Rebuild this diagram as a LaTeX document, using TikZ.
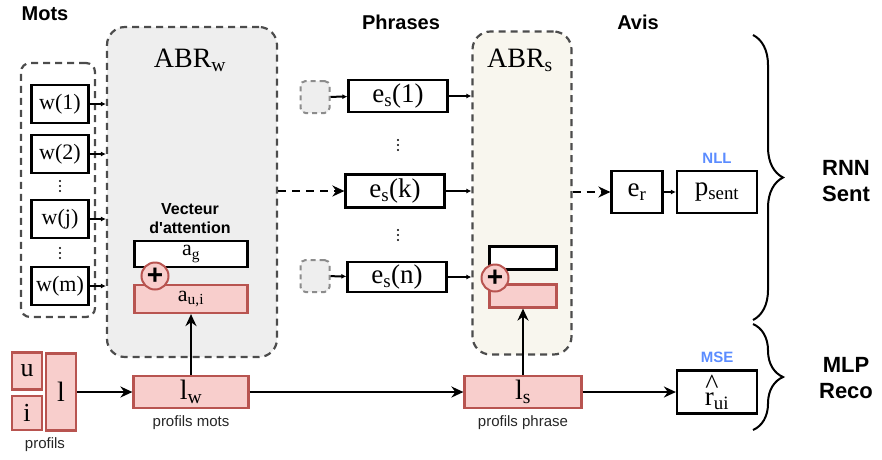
\documentclass[tikz,border=0pt]{standalone}
\usepackage{fontspec}
\setmainfont{Liberation Serif}
\setsansfont{Liberation Sans}
\usetikzlibrary{arrows.meta, positioning, decorations.pathreplacing}

\definecolor{pinkfill}{HTML}{F8CECC}
\definecolor{pinkline}{HTML}{B85450}
\definecolor{abrgray}{HTML}{EEEEEE}
\definecolor{abrbeige}{HTML}{F8F6EE}
\definecolor{losscol}{HTML}{5B8CFF}

\begin{document}
\begin{tikzpicture}[x=1pt, y=-1pt,
    vec/.style={draw, line width=2.2pt, inner sep=0pt, font=\fontsize{22}{22}\selectfont},
    sent/.style={vec, font=\fontsize{27}{27}\selectfont},
    prof/.style={vec, draw=pinkline, fill=pinkfill},
    abr/.style={draw=black!70, line width=2.2pt, dash pattern=on 7pt off 5pt, rounded corners=18pt, inner sep=0pt},
    ghost/.style={draw=black!45, fill=abrgray, line width=2pt, dash pattern=on 5pt off 4pt, rounded corners=5pt, minimum width=29pt, minimum height=32pt},
    plus/.style={circle, draw=pinkline, fill=pinkfill, line width=2pt, minimum size=27pt, inner sep=0pt, font=\sffamily\bfseries\fontsize{28}{28}\selectfont},
    title/.style={font=\sffamily\bfseries\fontsize{20}{20}\selectfont},
    model/.style={font=\sffamily\bfseries\fontsize{22}{26}\selectfont, align=center},
    loss/.style={text=losscol, font=\sffamily\bfseries\fontsize{15}{15}\selectfont},
    note/.style={text=black!85, font=\sffamily\fontsize{15}{15}\selectfont},
    small/.style={-{Latex[length=5pt, width=5pt]}, line width=2pt},
    big/.style={-{Stealth[length=12pt, width=11pt]}, line width=2.2pt}]
    \useasboundingbox (0,0) rectangle (882,459);

    % column titles
    \node[title] (tmots) at (45,14) {Mots};
    \node[title] (tphrases) at (401,22) {Phrases};
    \node[title] (tavis) at (638,22) {Avis};

    % attention blocks
    \node[abr, fill=abrgray, minimum width=170pt, minimum height=330pt] (abrw) at (192,192) {};
    \node[font=\fontsize{28}{28}\selectfont] (labw) at (190,60) {ABR\textsubscript{w}};
    \node[abr, fill=abrbeige, minimum width=99pt, minimum height=323pt] (abrs) at (522,193) {};
    \node[font=\fontsize{28}{28}\selectfont] (labs) at (520,60) {ABR\textsubscript{s}};

    % words
    \node[abr, rounded corners=9pt, minimum width=74pt, minimum height=254pt] (mots) at (58,190) {};
    \node[vec, minimum width=57pt, minimum height=38pt] (w1) at (60,104) {w(1)};
    \node[vec, minimum width=57pt, minimum height=38pt] (w2) at (60,154) {w(2)};
    \node[vec, minimum width=57pt, minimum height=38pt] (wj) at (60,219) {w(j)};
    \node[vec, minimum width=57pt, minimum height=38pt] (wm) at (60,286) {w(m)};
    \foreach \w in {w1,w2,wj,wm}
        \draw[small] (\w.east) -- (\w.east -| abrw.west);

    % vertical dots
    \foreach \x/\y in {60/186, 60/253, 398/145, 398/235}
        \foreach \d in {-5,0,5}
            \fill (\x,\y+\d) circle (1.1pt);

    % attention vector (words)
    \node[align=center, font=\sffamily\bfseries\fontsize{16}{19}\selectfont] (vect) at (190,219) {Vecteur\\d\textquotesingle attention};
    \node[vec, fill=white, minimum width=113pt, minimum height=26pt] (ag) at (191,254) {a\textsubscript{g}};
    \node[prof, minimum width=113pt, minimum height=28pt] (aui) at (191,299) {a\textsubscript{u,i}};
    \node[plus] (plusw) at (155,276) {+};

    % sentences
    \node[ghost] (g1) at (315,97) {};
    \node[ghost] (gn) at (315,276) {};
    \node[sent, minimum width=99pt, minimum height=32pt] (es1) at (398,96) {e\textsubscript{s}(1)};
    \node[sent, minimum width=99pt, minimum height=33pt] (esk) at (395,191) {e\textsubscript{s}(k)};
    \node[sent, minimum width=99pt, minimum height=30pt] (esn) at (397,277) {e\textsubscript{s}(n)};
    \draw[small] (g1) -- (es1);
    \draw[small] (gn) -- (esn);
    \draw[small] (es1.east) -- (es1.east -| abrs.west);
    \draw[small] (esk.east) -- (esk.east -| abrs.west);
    \draw[small] (esn.east) -- (esn.east -| abrs.west);
    \draw[big, dash pattern=on 8pt off 6pt] (abrw.east |- esk) -- (esk.west);

    % attention vector (sentences)
    \node[vec, fill=white, minimum width=67pt, minimum height=23pt] (ags) at (523,258) {};
    \node[prof, minimum width=67pt, minimum height=23pt] (auis) at (523,296) {};
    \node[plus] (pluss) at (495,278) {+};

    % review
    \node[sent, minimum width=51pt, minimum height=42pt] (er) at (637,192) {e\textsubscript{r}};
    \node[sent, minimum width=80pt, minimum height=42pt] (psent) at (717,192) {p\textsubscript{sent}};
    \node[loss, above=3pt of psent] (nll) {NLL};
    \draw[big, dash pattern=on 8pt off 6pt] (abrs.east |- er) -- (er.west);
    \draw[small] (er) -- (psent);

    % profiles
    \node[prof, minimum width=30pt, minimum height=37pt, font=\fontsize{26}{26}\selectfont] (u) at (27,371) {u};
    \node[prof, minimum width=30pt, minimum height=34pt, font=\fontsize{26}{26}\selectfont] (i) at (27,413) {i};
    \node[prof, minimum width=30pt, minimum height=77pt, font=\fontsize{28}{28}\selectfont] (l) at (61,392) {l};
    \node[note] (nprof) at (45,445) {profils};
    \node[prof, minimum width=115pt, minimum height=32pt, font=\fontsize{28}{28}\selectfont] (lw) at (191,392) {l\textsubscript{w}};
    \node[note, below=3pt of lw] (nlw) {profils mots};
    \node[prof, minimum width=117pt, minimum height=32pt, font=\fontsize{28}{28}\selectfont] (ls) at (523,392) {l\textsubscript{s}};
    \node[note, below=3pt of ls] (nls) {profils phrase};
    \node[sent, minimum width=80pt, minimum height=43pt] (rui) at (717,392)
        {\makebox[0pt][l]{\hspace{0.02em}\raisebox{0.45em}{\fontsize{28}{28}\selectfont\textasciicircum}}r\textsubscript{ui}};
    \node[loss, above=3pt of rui] (mse) {MSE};
    \draw[big] (l) -- (lw);
    \draw[big] (lw) -- (ls);
    \draw[big] (ls) -- (rui);
    \draw[big] (lw) -- (aui);
    \draw[big] (ls) -- (ls |- auis.south);

    % model parts
    \draw[decorate, decoration={brace, amplitude=30pt}, line width=2pt] (753,35) -- (753,320);
    \draw[decorate, decoration={brace, amplitude=30pt}, line width=2pt] (753,324) -- (753,430);
    \node[model] (rnn) at (846,181) {RNN\\Sent};
    \node[model] (mlp) at (846,378) {MLP\\Reco};
\end{tikzpicture}
\end{document}
